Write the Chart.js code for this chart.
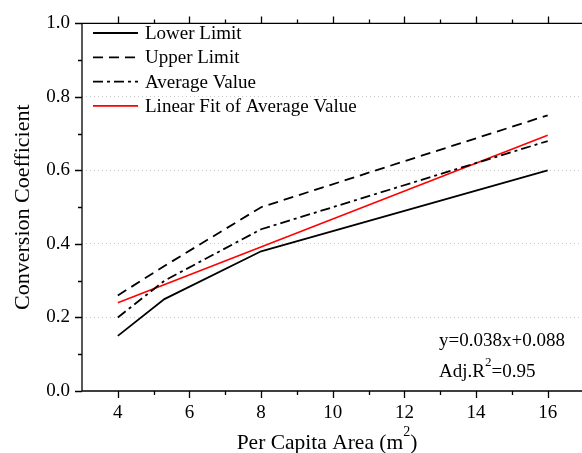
<!DOCTYPE html>
<html>
<head>
<meta charset="utf-8">
<script src="https://cdn.jsdelivr.net/npm/chart.js@4.4.0/dist/chart.umd.min.js"></script>
<style>
  html, body { margin: 0; padding: 0; background: #fff; overflow: hidden; }
  #wrap { width: 600px; height: 453px; }
</style>
</head>
<body>
<div id="wrap"><canvas id="myChart" width="600" height="453"></canvas></div>
<script>
// data
const areaX = [4, 5.3, 8, 16]
const lowerLimit = [0.15, 0.25, 0.38, 0.60]
const upperLimit = [0.26, 0.34, 0.50, 0.75]
const averageValue = [0.20, 0.30, 0.44, 0.68]
const fitX = [4, 16]
const fitY = [0.24, 0.696]
const xTicks = [4, 6, 8, 10, 12, 14, 16]
const xMinor = [5, 7, 9, 11, 13, 15]
const yTicks = [0, 0.2, 0.4, 0.6, 0.8, 1.0]
const yMinor = [0.1, 0.3, 0.5, 0.7, 0.9]
const seriesNames = ["Lower Limit", "Upper Limit", "Average Value", "Linear Fit of Average Value"]
const fitText = "y=0.038x+0.088"

const serif = "'Liberation Serif', 'Times New Roman', serif"

function pts(xs, ys) {
  return xs.map((x, i) => ({ x: x, y: ys[i] }))
}

// axis frame, minor ticks, legend, titles and fit text
const extras = {
  id: 'extras',
  afterDraw(chart) {
    const ctx = chart.ctx
    const a = chart.chartArea
    const xs = chart.scales.x
    const ys = chart.scales.y
    ctx.save()
    ctx.strokeStyle = '#000'
    ctx.lineWidth = 1.3
    // frame: left, bottom, top
    ctx.beginPath()
    ctx.moveTo(a.left, a.top); ctx.lineTo(a.left, a.bottom)
    ctx.moveTo(a.left, a.bottom); ctx.lineTo(a.right, a.bottom)
    ctx.moveTo(a.left, a.top); ctx.lineTo(a.right, a.top)
    // x ticks bottom and top
    xTicks.forEach(v => {
      const p = Math.round(xs.getPixelForValue(v)) + 0.5
      ctx.moveTo(p, a.bottom); ctx.lineTo(p, a.bottom + 7)
      ctx.moveTo(p, a.top); ctx.lineTo(p, a.top - 7)
    })
    xMinor.forEach(v => {
      const p = Math.round(xs.getPixelForValue(v)) + 0.5
      ctx.moveTo(p, a.bottom); ctx.lineTo(p, a.bottom + 4)
      ctx.moveTo(p, a.top); ctx.lineTo(p, a.top - 4)
    })
    yTicks.forEach(v => {
      const p = Math.round(ys.getPixelForValue(v)) + 0.5
      ctx.moveTo(a.left, p); ctx.lineTo(a.left - 7, p)
    })
    yMinor.forEach(v => {
      const p = Math.round(ys.getPixelForValue(v)) + 0.5
      ctx.moveTo(a.left, p); ctx.lineTo(a.left - 4, p)
    })
    ctx.stroke()

    // legend
    ctx.font = '19px ' + serif
    ctx.fillStyle = '#000'
    ctx.textBaseline = 'middle'
    chart.data.datasets.forEach((ds, i) => {
      const yy = 33 + i * 24.3
      ctx.beginPath()
      ctx.strokeStyle = ds.borderColor
      ctx.lineWidth = ds.borderWidth
      ctx.setLineDash(ds.borderDash || [])
      ctx.moveTo(93, yy); ctx.lineTo(138, yy)
      ctx.stroke()
      ctx.setLineDash([])
      ctx.fillText(ds.label, 145, yy + 1)
    })

    // fit text
    ctx.textBaseline = 'alphabetic'
    ctx.textAlign = 'left'
    ctx.fillText(fitText, 439, 346)
    ctx.fillText('Adj.R', 439, 377)
    let w = ctx.measureText('Adj.R').width
    ctx.font = '13px ' + serif
    ctx.fillText('2', 439 + w, 366)
    let w2 = ctx.measureText('2').width
    ctx.font = '19px ' + serif
    ctx.fillText('=0.95', 439 + w + w2, 377)

    // x title
    ctx.font = '21.5px ' + serif
    const t1 = 'Per Capita Area (m'
    const tw1 = ctx.measureText(t1).width
    ctx.font = '14px ' + serif
    const tw2 = ctx.measureText('2').width
    ctx.font = '21.5px ' + serif
    const tw3 = ctx.measureText(')').width
    let sx = 327 - (tw1 + tw2 + tw3) / 2
    ctx.fillText(t1, sx, 449)
    ctx.font = '14px ' + serif
    ctx.fillText('2', sx + tw1, 436)
    ctx.font = '21.5px ' + serif
    ctx.fillText(')', sx + tw1 + tw2, 449)

    // y title
    ctx.font = '22px ' + serif
    ctx.translate(23, (a.top + a.bottom) / 2)
    ctx.rotate(-Math.PI / 2)
    ctx.textAlign = 'center'
    ctx.textBaseline = 'middle'
    ctx.fillText('Conversion Coefficient', 0, 0)
    ctx.restore()
  }
}

const ctx = document.getElementById('myChart').getContext('2d')
const myChart = new Chart(ctx, {
  type: 'line',
  data: {
    datasets: [{
      label: seriesNames[0],
      data: pts(areaX, lowerLimit),
      borderColor: '#000',
      borderWidth: 1.8,
      pointRadius: 0,
      tension: 0
    }, {
      label: seriesNames[1],
      data: pts(areaX, upperLimit),
      borderColor: '#000',
      borderWidth: 1.8,
      borderDash: [10, 6],
      pointRadius: 0,
      tension: 0
    }, {
      label: seriesNames[2],
      data: pts(areaX, averageValue),
      borderColor: '#000',
      borderWidth: 1.8,
      borderDash: [10, 4, 3, 4],
      pointRadius: 0,
      tension: 0
    }, {
      label: seriesNames[3],
      data: pts(fitX, fitY),
      borderColor: '#ff0000',
      borderWidth: 1.6,
      pointRadius: 0,
      tension: 0
    }]
  },
  options: {
    responsive: false,
    animation: false,
    layout: { padding: { top: 20, right: 16.5, left: 0, bottom: 0 } },
    plugins: {
      legend: { display: false },
      tooltip: { enabled: false }
    },
    scales: {
      x: {
        type: 'linear',
        min: 3,
        max: 17,
        afterBuildTicks: s => { s.ticks = xTicks.map(v => ({ value: v })) },
        afterFit: s => { s.height = 62 },
        grid: { display: false, drawTicks: false },
        border: { display: false },
        ticks: {
          padding: 11,
          color: '#000',
          font: { family: serif, size: 19 },
          maxRotation: 0
        }
      },
      y: {
        min: 0,
        max: 1,
        afterBuildTicks: s => { s.ticks = yTicks.map(v => ({ value: v })) },
        afterFit: s => { s.width = 82 },
        grid: {
          drawTicks: false,
          color: c => (c.tick && (c.tick.value === 0 || c.tick.value === 1)) ? 'rgba(0,0,0,0)' : '#c8c8c8',
          lineWidth: 1
        },
        border: { display: false, dash: [1, 3] },
        ticks: {
          padding: 12,
          color: '#000',
          font: { family: serif, size: 19 },
          callback: v => v.toFixed(1)
        }
      }
    }
  },
  plugins: [extras]
})
</script>
</body>
</html>
